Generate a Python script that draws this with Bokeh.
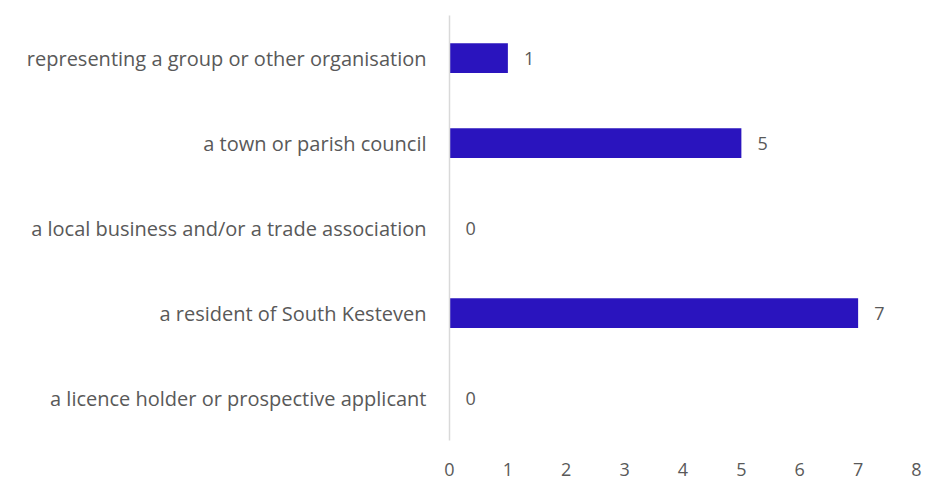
from bokeh.plotting import figure
from bokeh.models import ColumnDataSource, FactorRange, Range1d, FixedTicker
from bokeh.core.properties import value
from bokeh.embed import file_html
from bokeh.resources import INLINE

categories = [
    "representing a group or other organisation",
    "a town or parish council",
    "a local business and/or a trade association",
    "a resident of South Kesteven",
    "a licence holder or prospective applicant",
]
counts = [1, 5, 0, 7, 0]
x_ticks = [0, 1, 2, 3, 4, 5, 6, 7, 8]

FONT = "Open Sans"
TEXT_COLOR = "#595959"
BAR_COLOR = "#2A14BE"

src = ColumnDataSource(dict(cat=categories, val=counts, lab=[str(v) for v in counts]))

p = figure(
    width=925, height=480,
    y_range=FactorRange(*list(reversed(categories))),
    x_range=Range1d(0, 8),
    output_backend="svg", toolbar_location=None,
    min_border_left=449, min_border_right=9, min_border_top=15, min_border_bottom=40,
)
p.outline_line_color = None
p.xgrid.visible = False
p.ygrid.visible = False
p.background_fill_color = "white"

p.hbar(y="cat", right="val", left=0, height=0.35, source=src, fill_color=BAR_COLOR, line_color=None)
p.text(x="val", y="cat", text="lab", source=src, x_offset=16, text_align="left",
       text_baseline="middle", text_font=value(FONT), text_font_size="18px", text_color=TEXT_COLOR)

p.xaxis.ticker = FixedTicker(ticks=x_ticks)
p.xaxis.axis_line_color = None
p.xaxis.major_tick_line_color = None
p.xaxis.minor_tick_line_color = None
p.xaxis.major_label_text_font = FONT
p.xaxis.major_label_text_font_size = "18px"
p.xaxis.major_label_text_color = TEXT_COLOR
p.xaxis.major_label_standoff = 16

p.yaxis.axis_line_color = "#d9d9d9"
p.yaxis.axis_line_width = 1.5
p.yaxis.major_tick_line_color = None
p.yaxis.minor_tick_line_color = None
p.yaxis.major_label_text_font = FONT
p.yaxis.major_label_text_font_size = "20px"
p.yaxis.major_label_text_color = TEXT_COLOR
p.yaxis.major_label_standoff = 17

open("out.html", "w").write(file_html(p, INLINE))
